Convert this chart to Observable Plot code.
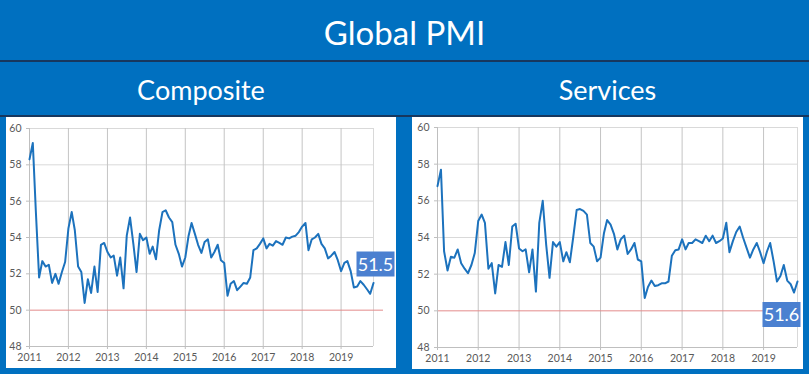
<!DOCTYPE html>
<html>
<head>
<meta charset="utf-8">
<script src="https://cdn.jsdelivr.net/npm/d3@7"></script>
<script src="https://cdn.jsdelivr.net/npm/@observablehq/plot@0.6"></script>
<style>
  html, body { margin: 0; padding: 0; }
  body { width: 809px; height: 374px; background: #0070c0; position: relative; overflow: hidden; font-family: Lato, "Open Sans", sans-serif; }
  .band { position: absolute; color: white; text-align: center; }
  .rule { position: absolute; left: 0; width: 809px; height: 2px; background: #17375e; }
  .panel { position: absolute; background: white; }
</style>
</head>
<body>
<div class="band" style="left:0;top:2px;width:809px;height:60px;line-height:60px;font-size:33px;">Global PMI</div>
<div class="rule" style="top:60px;"></div>
<div class="band" style="left:6px;top:63px;width:390px;height:53px;line-height:53px;font-size:27px;">Composite</div>
<div class="band" style="left:412px;top:63px;width:391px;height:53px;line-height:53px;font-size:27px;">Services</div>
<div class="rule" style="top:115px;"></div>
<div class="panel" id="left" style="left:6px;top:117px;width:390px;height:251px;"></div>
<div class="panel" id="right" style="left:412px;top:117px;width:391px;height:252px;"></div>
<script>
// Monthly values, Jan 2011 .. Nov 2019
const compositeValues = [
  58.3, 59.2, 55.5, 51.8, 52.7, 52.4, 52.5, 51.5, 52.0, 51.45, 52.1, 52.65,
  54.5, 55.4, 54.4, 52.4, 52.1, 50.4, 51.7, 50.95, 52.4, 51.0, 53.6, 53.7,
  53.2, 52.9, 53.0, 51.9, 52.9, 51.2, 54.1, 55.1, 53.65, 52.1, 54.2, 53.85,
  54.0, 53.1, 53.5, 52.8, 54.4, 55.4, 55.5, 55.1, 54.85, 53.6, 53.1, 52.4,
  52.9, 54.1, 54.8, 54.2, 53.6, 53.15, 53.75, 53.9, 52.9, 53.2, 53.6, 52.75,
  52.6, 50.8, 51.45, 51.6, 51.1, 51.3, 51.5, 51.45, 51.8, 53.3, 53.4, 53.65,
  53.95, 53.4, 53.65, 53.55, 53.8, 53.7, 53.6, 54.0, 53.95, 54.05, 54.1, 54.3,
  54.6, 54.8, 53.3, 53.9, 54.0, 54.2, 53.65, 53.4, 52.85, 53.0, 53.2, 52.75,
  52.15, 52.6, 52.7, 52.15, 51.25, 51.3, 51.6, 51.4, 51.15, 50.9, 51.5
];
const servicesValues = [
  56.8, 57.7, 53.25, 52.2, 52.95, 52.9, 53.35, 52.6, 52.3, 52.05, 52.5, 53.15,
  54.9, 55.25, 54.8, 52.3, 52.6, 50.95, 52.5, 52.4, 53.75, 52.5, 54.6, 54.75,
  53.4, 53.25, 53.35, 52.1, 53.35, 51.05, 54.8, 56.0, 53.6, 51.8, 53.75, 53.5,
  53.75, 52.7, 53.2, 52.65, 54.0, 55.5, 55.55, 55.45, 55.25, 53.7, 53.5, 52.7,
  52.9, 54.25, 54.95, 54.7, 54.2, 53.35, 53.9, 54.1, 53.1, 53.35, 53.7, 52.8,
  52.7, 50.7, 51.3, 51.65, 51.35, 51.4, 51.5, 51.5, 51.6, 53.0, 53.3, 53.35,
  53.9, 53.35, 53.7, 53.7, 53.9, 53.8, 53.7, 54.1, 53.8, 54.1, 53.7, 53.8,
  53.95, 54.8, 53.2, 53.8, 54.3, 54.6, 54.0, 53.45, 52.9, 53.35, 53.7, 53.2,
  52.6, 53.25, 53.7, 52.7, 51.6, 51.9, 52.5, 51.65, 51.45, 51.0, 51.6
];
const yearLabels = ["2011","2012","2013","2014","2015","2016","2017","2018","2019"];
const yTicks = [48, 50, 52, 54, 56, 58, 60];
const threshold = 50;

const months = d3.utcMonth.range(new Date(Date.UTC(2011, 0, 1)), new Date(Date.UTC(2019, 11, 1)));
const yearTicks = yearLabels.map(y => new Date(Date.UTC(+y, 0, 1)));

const boxSymbol = { draw(ctx) { ctx.moveTo(-19, -12.5); ctx.lineTo(19, -12.5); ctx.lineTo(19, 12.5); ctx.lineTo(-19, 12.5); ctx.closePath(); } };

function chart(values, o) {
  const data = values.map((v, i) => ({date: months[i], value: v}));
  const last = data[data.length - 1];
  const start = months[0], end = months[months.length - 1];
  return Plot.plot({
    width: o.width, height: o.height,
    marginLeft: o.ml, marginRight: o.mr, marginTop: o.mt, marginBottom: o.mb,
    style: {fontFamily: "Lato, 'Open Sans', sans-serif", fontSize: "10.5px", background: "white", overflow: "visible"},
    x: {type: "utc", domain: [start, end], label: null},
    y: {domain: [48, 60], label: null},
    marks: [
      Plot.ruleY(yTicks.filter(t => t !== 48 && t !== threshold), {stroke: "#d9d9d9", strokeWidth: 1}),
      Plot.ruleX(yearTicks.slice(1), {stroke: "#c4c4c4", strokeWidth: 1}),
      Plot.ruleX([end], {stroke: "#d9d9d9"}),
      Plot.ruleY([threshold], {stroke: "#e38b8b", strokeWidth: 1, insetRight: o.redExt}),
      Plot.ruleY([48], {stroke: "#bfbfbf"}),
      Plot.ruleX([start], {stroke: "#bfbfbf"}),
      Plot.axisY({ticks: yTicks, label: null, tickSize: 3, tickPadding: 5, fill: "#595959", stroke: "#bfbfbf"}),
      Plot.axisX({ticks: yearTicks, label: null, tickFormat: d3.utcFormat("%Y"), tickSize: 3, tickPadding: 4, fill: "#595959", stroke: "#bfbfbf"}),
      Plot.lineY(data, {x: "date", y: "value", stroke: "#1c72bd", strokeWidth: 2}),
      Plot.dot([last], {x: "date", y: "value", symbol: boxSymbol, fill: "#4b80d0", stroke: null, dx: o.dx, dy: o.dy}),
      Plot.text([last], {x: "date", y: "value", text: d => d.value.toFixed(1), fill: "white", fontSize: 18, dx: o.dx, dy: o.dy + 1})
    ]
  });
}

document.getElementById("left").append(chart(compositeValues, {width: 390, height: 251, ml: 23, mr: 23, mt: 11, mb: 22, dx: 2, dy: -19, redExt: -10}));
document.getElementById("right").append(chart(servicesValues, {width: 391, height: 252, ml: 25, mr: 6, mt: 10, mb: 22, dx: -16, dy: 33, redExt: 0}));
</script>
</body>
</html>
